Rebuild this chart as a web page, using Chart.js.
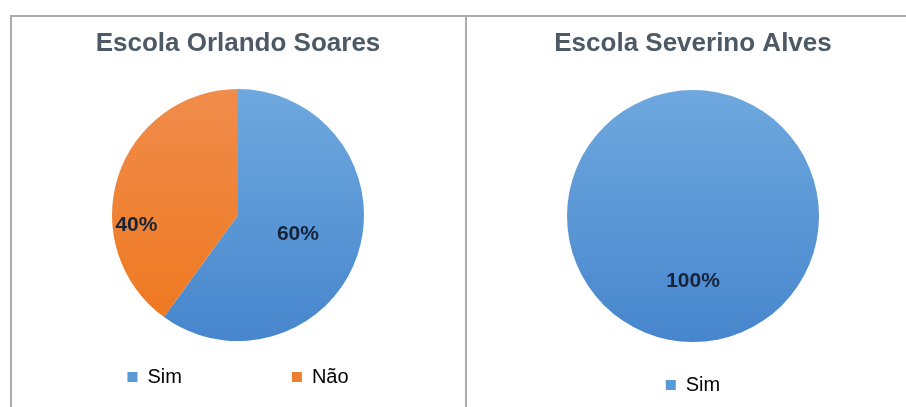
<!DOCTYPE html>
<html>
<head>
<meta charset="utf-8">
<script src="https://cdn.jsdelivr.net/npm/chart.js@4/dist/chart.umd.min.js"></script>
<style>
  html, body { margin: 0; padding: 0; background: #fff; overflow: hidden; }
  body { width: 906px; height: 407px; position: relative; font-family: "Liberation Sans", Arial, sans-serif; }
  .frame { position: absolute; top: 15px; height: 420px; border-top: 2px solid #ababab; border-left: 2px solid #ababab; box-sizing: border-box; }
  #frameA { left: 10px; width: 456px; }
  #frameB { left: 465px; width: 460px; }
  canvas { position: absolute; }
  #chartA { left: 12px; top: 17px; }
  #chartB { left: 467px; top: 17px; }
</style>
</head>
<body>
<div class="frame" id="frameA"></div>
<div class="frame" id="frameB"></div>
<canvas id="chartA" width="452" height="380"></canvas>
<canvas id="chartB" width="452" height="388"></canvas>
<script>
// Answers per school
const schoolA = "Escola Orlando Soares";
const labelsA = ["Sim", "Não"];
const valuesA = [60, 40];

const schoolB = "Escola Severino Alves";
const labelsB = ["Sim"];
const valuesB = [100];

// Slice colours: flat (legend) and gradient ends (pie fill)
const flatColors = ["#5b9bd5", "#ed7d31"];
const gradTop = ["#6ea8de", "#f08c4c"];
const gradBottom = ["#4786cd", "#ee771c"];

// Where each percentage label sits: fraction of the radius, angular nudge in degrees
const labelRadiusA = [0.5, 0.81];
const labelShiftA = [0, -23.6];
const labelRadiusB = [0.52];
const labelShiftB = [0];

const PIE_RADIUS = 126;
const FONT = '"Liberation Sans", Arial, sans-serif';

// Vertical light-to-dark fill over the whole pie disc
function gradientFill(context) {
  const chart = context.chart;
  const i = context.dataIndex;
  const area = chart.chartArea;
  if (!area) return flatColors[i];
  const cy = (area.top + area.bottom) / 2;
  const g = chart.ctx.createLinearGradient(0, cy - PIE_RADIUS, 0, cy + PIE_RADIUS);
  g.addColorStop(0, gradTop[i]);
  g.addColorStop(1, gradBottom[i]);
  return g;
}

// Percentage labels drawn on each slice
const percentLabels = {
  id: 'percentLabels',
  afterDatasetsDraw(chart, args, opts) {
    const ctx = chart.ctx;
    const ds = chart.data.datasets[0];
    const total = ds.data.reduce((a, b) => a + b, 0);
    const meta = chart.getDatasetMeta(0);
    ctx.save();
    ctx.font = 'bold 21px ' + FONT;
    ctx.fillStyle = '#16243a';
    ctx.textAlign = 'center';
    ctx.textBaseline = 'middle';
    meta.data.forEach((arc, i) => {
      const p = arc.getProps(['x', 'y', 'startAngle', 'endAngle', 'outerRadius'], true);
      const mid = (p.startAngle + p.endAngle) / 2 + opts.shift[i] * Math.PI / 180;
      const r = p.outerRadius * opts.radius[i];
      const pct = Math.round(ds.data[i] / total * 100) + '%';
      ctx.fillText(pct, p.x + Math.cos(mid) * r, p.y + Math.sin(mid) * r);
    });
    ctx.restore();
  }
};

function makePie(id, title, labels, values, labelRadius, labelShift, titleGap) {
  return new Chart(document.getElementById(id), {
    type: 'pie',
    data: {
      labels: labels,
      datasets: [{
        data: values,
        backgroundColor: gradientFill,
        borderWidth: 0,
        radius: PIE_RADIUS
      }]
    },
    options: {
      responsive: false,
      animation: false,
      events: [],
      layout: { padding: 0 },
      plugins: {
        title: {
          display: true,
          text: title,
          color: '#4e5966',
          font: { family: FONT, size: 26, weight: 'bold', lineHeight: 1.2 },
          padding: { top: 11, bottom: titleGap }
        },
        legend: {
          position: 'bottom',
          labels: {
            color: '#404040',
            font: { family: FONT, size: 20 },
            boxWidth: 10,
            boxHeight: 10,
            padding: 110,
            generateLabels(chart) {
              return chart.data.labels.map((text, i) => ({
                text: text,
                fillStyle: flatColors[i],
                strokeStyle: flatColors[i],
                lineWidth: 0,
                hidden: false,
                index: i
              }));
            }
          }
        },
        tooltip: { enabled: false },
        percentLabels: { radius: labelRadius, shift: labelShift }
      }
    },
    plugins: [percentLabels]
  });
}

makePie('chartA', schoolA, labelsA, valuesA, labelRadiusA, labelShiftA, 114);
makePie('chartB', schoolB, labelsB, valuesB, labelRadiusB, labelShiftB, 108);
</script>
</body>
</html>
